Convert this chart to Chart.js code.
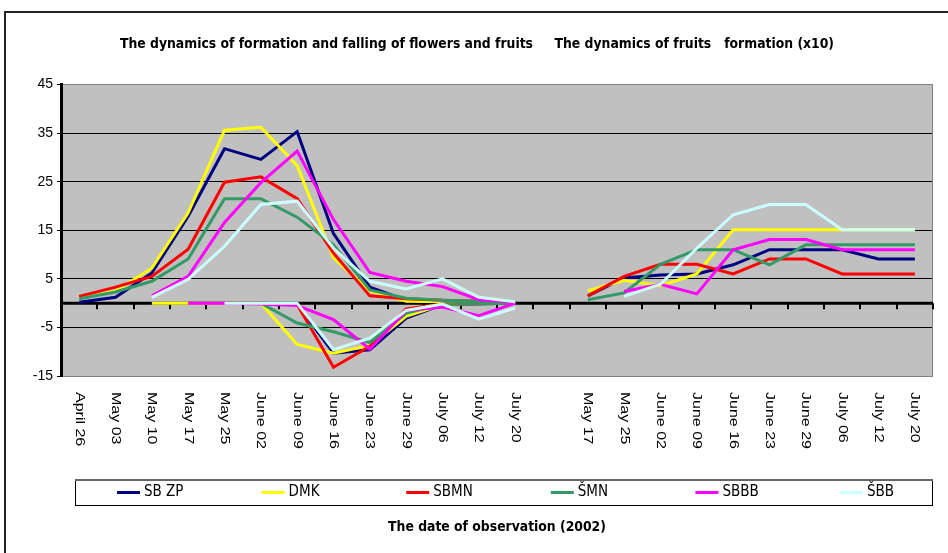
<!DOCTYPE html>
<html>
<head>
<meta charset="utf-8">
<script src="https://cdn.jsdelivr.net/npm/chart.js@4.4.0/dist/chart.umd.min.js"></script>
<style>
  html, body { margin: 0; padding: 0; background: #fff; }
  canvas { display: block; }
</style>
</head>
<body>
<canvas id="LineChart" width="948" height="553"></canvas>
<script>
// dates of observation
const flowerDates = ["April 26", "May 03", "May 10", "May 17", "May 25", "June 02", "June 09", "June 16", "June 23", "June 29", "July 06", "July 12", "July 20"];
const fruitDates = ["May 17", "May 25", "June 02", "June 09", "June 16", "June 23", "June 29", "July 06", "July 12", "July 20"];
const yTicks = [-15, -5, 5, 15, 25, 35, 45];

const seriesNames = ["SB ZP", "DMK", "SBMN", "ŠMN", "SBBB", "ŠBB"];
const seriesColors = ["#000080", "#ffff00", "#ff0000", "#339966", "#ff00ff", "#ccffff"];

// formation of flowers (positive) and falling (negative), fruits formation (x10)
const sbzpFormed = [0.2, 1.2, 6.2, 17.9, 31.8, 29.6, 35.3, 14.3, 3.3, 0.6, 0.4, 0.3, 0.2];
const sbzpFallen = [null, null, null, 0, 0, 0, -0.2, -10.3, -9.6, -3.1, -0.3, -0.1, 0];
const sbzpFruits = [1.5, 5.2, 5.8, 6.0, 7.9, 11.0, 11.0, 11.0, 9.1, 9.1];

const dmkFormed = [1.0, 2.5, 7.2, 18.6, 35.6, 36.2, 28.3, 9.3, 2.5, 0.4, 0.3, 0.3, 0.2];
const dmkFallen = [null, null, 0, 0, 0, 0, -8.5, -10.3, -8.7, -2.7, -0.3, 0, 0];
const dmkFruits = [2.5, 4.7, 3.6, 6.0, 15.1, 15.1, 15.1, 15.1, 15.1, 15.1];

const sbmnFormed = [1.4, 3.3, 5.5, 11.1, 24.9, 26.0, 21.5, 10.3, 1.5, 0.9, 0.6, 0.4, 0.2];
const sbmnFallen = [null, null, null, null, 0, 0, -0.3, -13.2, -8.9, -1.2, -0.2, -0.1, 0];
const sbmnFruits = [1.5, 5.5, 8.0, 8.0, 6.0, 9.1, 9.1, 6.0, 6.0, 6.0];

const smnFormed = [0.9, 2.3, 4.5, 9.1, 21.5, 21.5, 17.7, 12.0, 2.7, 1.0, 0.6, 0.4, 0.3];
const smnFallen = [null, null, null, null, 0, 0, -4.1, -5.9, -8.1, -2.1, -0.2, -0.1, 0];
const smnFruits = [0.7, 2.1, 8.0, 11.0, 11.0, 7.9, 12.0, 12.0, 12.0, 12.0];

const sbbbFormed = [null, null, 1.5, 5.5, 16.6, 24.8, 31.3, 17.2, 6.3, 4.5, 3.4, 0.7, 0.2];
const sbbbFallen = [null, null, null, 0, 0, -0.2, -0.5, -3.4, -9.5, -1.5, -0.8, -2.6, 0];
const sbbbFruits = [null, 2.4, 3.9, 1.9, 11.0, 13.1, 13.1, 11.0, 11.0, 11.0];

const sbbFormed = [null, null, 1.2, 4.9, 11.7, 20.3, 21.0, 11.3, 4.5, 2.9, 5.0, 1.2, 0.3];
const sbbFallen = [null, null, null, null, 0, 0, 0, -9.6, -7.2, -1.5, -0.2, -3.3, -1.0];
const sbbFruits = [null, 1.4, 3.9, 11.3, 18.2, 20.3, 20.3, 15.1, 15.1, 15.1];

const formed = [sbzpFormed, dmkFormed, sbmnFormed, smnFormed, sbbbFormed, sbbFormed];
const fallen = [sbzpFallen, dmkFallen, sbmnFallen, smnFallen, sbbbFallen, sbbFallen];
const fruits = [sbzpFruits, dmkFruits, sbmnFruits, smnFruits, sbbbFruits, sbbFruits];

// one empty category between the two parts of the chart
const labels = [...flowerDates, "", ...fruitDates];
const gap = new Array(fruitDates.length + 1).fill(null);

const narrow = "'Liberation Sans Narrow', 'Arial Narrow', 'DejaVu Sans Condensed', sans-serif";
const plain = "'Liberation Sans', Arial, sans-serif";

Chart.defaults.color = "#000";

const datasets = [];
seriesNames.forEach((name, i) => {
  datasets.push({
    label: name,
    data: [...formed[i], null, ...fruits[i]],
    borderColor: seriesColors[i],
    backgroundColor: seriesColors[i],
    borderWidth: 3,
    pointRadius: 0,
    tension: 0,
    spanGaps: false,
    order: 6 - i,
  });
  datasets.push({
    label: name + " falling",
    data: [...fallen[i], ...gap],
    borderColor: seriesColors[i],
    backgroundColor: seriesColors[i],
    borderWidth: 3,
    pointRadius: 0,
    tension: 0,
    spanGaps: false,
    order: 6 - i,
  });
});

const plotFrame = {
  id: "plotFrame",
  beforeDraw(chart) {
    const { ctx, chartArea: a } = chart;
    ctx.save();
    ctx.fillStyle = "#fff";
    ctx.fillRect(0, 0, chart.width, chart.height);
    ctx.strokeStyle = "#222";
    ctx.lineWidth = 2;
    ctx.beginPath();
    ctx.moveTo(5, chart.height + 5);
    ctx.lineTo(5, 12);
    ctx.lineTo(chart.width + 5, 12);
    ctx.stroke();
    ctx.fillStyle = "#c0c0c0";
    ctx.fillRect(a.left, a.top, a.right - a.left, a.bottom - a.top);
    ctx.restore();
  },
  beforeDatasetsDraw(chart) {
    const { ctx, chartArea: a, scales: { x, y } } = chart;
    const y0 = y.getPixelForValue(0);
    ctx.save();
    ctx.strokeStyle = "#808080";
    ctx.lineWidth = 1;
    ctx.beginPath();
    ctx.moveTo(a.right - 0.5, a.top);
    ctx.lineTo(a.right - 0.5, a.bottom);
    ctx.stroke();
    // x axis crosses at zero, with tick marks between categories
    ctx.strokeStyle = "#000";
    ctx.lineWidth = 3;
    ctx.beginPath();
    ctx.moveTo(a.left, y0);
    ctx.lineTo(a.right, y0);
    ctx.stroke();
    ctx.lineWidth = 2;
    ctx.beginPath();
    for (let i = 1; i <= labels.length; i++) {
      const px = Math.round(x.getPixelForValue(i - 0.5));
      ctx.moveTo(px, y0);
      ctx.lineTo(px, y0 + 6);
    }
    ctx.stroke();
    ctx.restore();
  },
  afterDraw(chart) {
    const { ctx, chartArea: a, scales: { x } } = chart;
    ctx.save();
    // rotated date labels, reading downwards
    ctx.fillStyle = "#000";
    ctx.font = "16px " + plain;
    ctx.textAlign = "left";
    ctx.textBaseline = "middle";
    labels.forEach((lab, i) => {
      if (!lab) return;
      ctx.save();
      ctx.translate(x.getPixelForValue(i), a.bottom + 16);
      ctx.rotate(Math.PI / 2);
      ctx.scale(1, 0.8);
      ctx.fillText(lab, 0, 0);
      ctx.restore();
    });

    // boxed legend
    const bx = 75, by = 479, bw = 857, bh = 26;
    ctx.strokeStyle = "#000";
    ctx.lineWidth = 1;
    ctx.strokeRect(bx + 0.5, by + 0.5, bw, bh);
    ctx.strokeStyle = "#666";
    ctx.lineWidth = 2;
    ctx.beginPath();
    ctx.moveTo(bx, by + 1);
    ctx.lineTo(bx + bw + 1, by + 1);
    ctx.stroke();
    ctx.font = "15px " + narrow;
    const step = 144.6;
    seriesNames.forEach((name, i) => {
      const lx = bx + 42 + i * step;
      const ly = by + bh / 2 + 0.5;
      ctx.strokeStyle = seriesColors[i];
      ctx.lineWidth = 3;
      ctx.beginPath();
      ctx.moveTo(lx, ly);
      ctx.lineTo(lx + 23, ly);
      ctx.stroke();
      ctx.fillText(name, lx + 27, ly);
    });
    ctx.restore();
  },
};

const config = {
  type: "line",
  data: { labels: labels, datasets: datasets },
  options: {
    responsive: false,
    animation: false,
    layout: { padding: { left: 6, right: 0, top: 12, bottom: 4 } },
    plugins: {
      legend: { display: false },
      tooltip: { enabled: false },
      title: {
        display: true,
        text: "The dynamics of formation and falling of flowers and fruits     The dynamics of fruits   formation (x10)",
        font: { family: narrow, size: 13.8, weight: "bold" },
        padding: { top: 24, bottom: 32 },
      },
    },
    scales: {
      x: {
        type: "category",
        offset: true,
        grid: { display: false },
        border: { display: false },
        ticks: { display: false },
        title: {
          display: true,
          text: "The date of observation (2002)",
          font: { family: narrow, size: 13.8, weight: "bold" },
          padding: { top: 4, bottom: 13 },
        },
        afterFit(scale) { scale.height = 173; },
      },
      y: {
        min: yTicks[0],
        max: yTicks[yTicks.length - 1],
        afterBuildTicks(scale) { scale.ticks = yTicks.map(v => ({ value: v })); },
        afterFit(scale) { scale.width = 55; },
        ticks: { font: { family: plain, size: 14 }, padding: 4 },
        grid: {
          color: c => (c.tick && (c.tick.value === yTicks[0] || c.tick.value === yTicks[yTicks.length - 1])) ? "#808080" : "#000",
          lineWidth: 1,
          tickLength: 4,
          tickColor: "#000",
        },
        border: { color: "#000", width: 3 },
      },
      // empty margin on the right of the plot area
      yRight: {
        position: "right",
        min: 0,
        max: 1,
        grid: { display: false },
        border: { display: false },
        ticks: { display: false },
        afterFit(scale) { scale.width = 15; },
      },
    },
  },
  plugins: [plotFrame],
};

new Chart(document.getElementById("LineChart").getContext("2d"), config);
</script>
</body>
</html>
